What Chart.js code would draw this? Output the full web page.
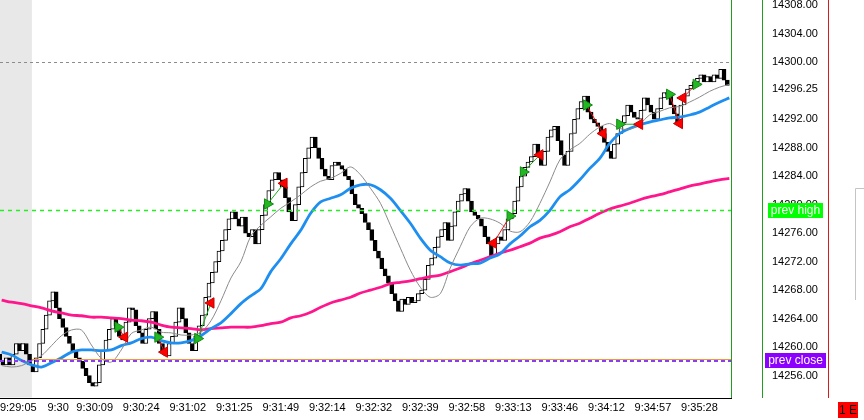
<!DOCTYPE html>
<html><head><meta charset="utf-8">
<script src="https://cdn.jsdelivr.net/npm/chart.js@4.4.1/dist/chart.umd.min.js"></script>
<style>html,body{margin:0;padding:0;background:#fff;overflow:hidden}canvas{display:block}</style>
</head><body>
<canvas id="c" width="864" height="420"></canvas>
<script>
// ---- data ----
const firstOpen = 14259.0;
const barCloses = [
  14258.0, 14257.5, 14258.5, 14257.5, 14259.0, 14260.5, 14259.5, 14260.5, 14259.0, 14257.5,
  14256.5, 14258.5, 14260.5, 14262.5, 14264.5, 14266.5, 14267.75, 14265.5, 14264.0, 14262.75,
  14261.5, 14260.5, 14259.5, 14258.5, 14258.0, 14257.0, 14256.0, 14255.0, 14254.5, 14255.0,
  14257.5, 14259.5, 14261.0, 14262.5, 14264.0, 14263.0, 14261.5, 14261.0, 14263.5, 14265.5,
  14265.25, 14263.0, 14262.0, 14260.5, 14262.5, 14264.0, 14265.0, 14262.5, 14260.5, 14259.5,
  14258.75, 14260.5, 14261.5, 14263.5, 14265.5, 14264.0, 14262.0, 14260.5, 14259.5, 14261.5,
  14263.0, 14264.5, 14267.0, 14269.0, 14270.5, 14272.0, 14273.5, 14275.0, 14276.5, 14278.0,
  14279.0, 14278.0, 14277.0, 14278.25, 14276.0, 14275.5, 14276.5, 14274.5, 14276.5, 14278.5,
  14280.0, 14282.0, 14283.5, 14284.5, 14283.5, 14282.5, 14281.0, 14279.0, 14277.75, 14280.0,
  14282.5, 14284.5, 14286.5, 14288.0, 14289.5, 14288.0, 14286.5, 14285.0, 14284.0, 14283.5,
  14285.5, 14286.0, 14285.5, 14285.0, 14284.0, 14283.5, 14281.5, 14280.0, 14279.5, 14278.75,
  14277.5, 14276.5, 14275.0, 14273.5, 14272.5, 14271.0, 14270.0, 14269.0, 14267.5, 14266.5,
  14265.0, 14266.75, 14266.0, 14267.0, 14266.25, 14266.5, 14267.5, 14268.0, 14269.5, 14271.5,
  14272.5, 14274.0, 14275.5, 14276.5, 14277.5, 14275.0, 14277.0, 14279.0, 14280.5, 14281.5,
  14282.25, 14280.5, 14279.0, 14278.5, 14278.0, 14277.0, 14275.5, 14274.5, 14272.75, 14274.5,
  14275.5, 14275.0, 14276.5, 14278.0, 14278.75, 14280.5, 14282.5, 14284.0, 14285.25, 14286.0,
  14286.75, 14288.5, 14287.0, 14285.5, 14287.5, 14289.5, 14290.5, 14291.0, 14289.0, 14287.0,
  14285.5, 14287.5, 14290.0, 14292.0, 14293.5, 14294.5, 14295.25, 14293.0, 14292.0, 14291.5,
  14291.0, 14290.0, 14288.75, 14287.5, 14286.5, 14288.5, 14290.0, 14291.5, 14292.5, 14294.0,
  14293.0, 14292.25, 14292.0, 14293.25, 14295.0, 14294.0, 14293.0, 14292.0, 14293.5, 14295.0,
  14295.75, 14295.5, 14294.0, 14292.75, 14291.5, 14294.0, 14295.25, 14296.25, 14296.75, 14297.25,
  14297.75, 14298.25, 14297.25, 14298.0, 14297.25, 14298.25, 14297.75, 14299.0, 14297.5, 14296.75
];
const timeLabels = ['9:29:05','9:30','9:30:09','9:30:24','9:31:02','9:31:25','9:31:49','9:32:14',
  '9:32:32','9:32:39','9:32:58','9:33:13','9:33:46','9:34:12','9:34:57','9:35:28'];
const timeLabelBars = [5,17,28,42,56,70,84,98,112,126,140,154,168,182,196,210];
const priceTicks = [14256,14260,14264,14268,14272,14276,14280,14284,14288,14292,14296.25,14300,14304,14308];

// moving averages, read every maStep bars
const maStep = 3;
const maFast = [14257.4,14257.2,14257.4,14258.1,14258.8,14260.2,14261.6,14262.4,14262.4,14260.3,
  14258.4,14257.9,14259.6,14261.9,14262.4,14262.8,14262.1,14262.0,14261.7,14261.7,
  14262.1,14263.7,14266.5,14269.7,14272.0,14275.6,14277.1,14278.3,14279.5,14280.4,
  14281.4,14282.5,14283.3,14283.7,14284.4,14285.3,14284.2,14282.3,14280.2,14277.1,
  14273.9,14270.8,14268.4,14267.0,14267.5,14271.1,14274.1,14276.9,14278.1,14278.0,
  14277.4,14276.3,14276.2,14277.6,14280.2,14283.2,14286.3,14287.7,14288.6,14289.9,
  14290.9,14291.4,14290.7,14290.6,14291.3,14292.6,14293.1,14293.6,14293.8,14294.4,
  14295.1,14295.9,14296.5,14296.9];
const maMid = [14259.3,14258.9,14258.1,14257.5,14257.2,14257.8,14258.5,14259.3,14259.6,14259.6,
  14259.5,14259.6,14260.2,14260.6,14261.2,14261.4,14260.9,14260.6,14260.6,14260.9,
  14261.6,14262.6,14263.4,14264.7,14266.1,14267.2,14268.2,14270.6,14272.4,14274.5,
  14276.4,14278.8,14280.4,14280.9,14281.4,14282.3,14282.8,14282.8,14282.1,14280.9,
  14279.2,14277.4,14275.3,14273.6,14272.7,14271.8,14271.5,14271.7,14271.8,14272.5,
  14273.1,14274.5,14275.6,14276.9,14277.8,14279.2,14281.1,14282.1,14283.5,14285.1,
  14286.5,14288.6,14290.0,14290.7,14291.2,14291.6,14291.9,14292.2,14292.3,14292.6,
  14293.0,14293.7,14294.4,14295.0];
const maSlow = [14266.6,14266.3,14266.1,14265.8,14265.5,14265.1,14264.8,14264.5,14264.4,14264.2,
  14264.2,14264.1,14264.0,14263.8,14263.7,14263.5,14263.1,14262.8,14262.7,14262.6,
  14262.4,14262.6,14262.7,14262.8,14262.8,14262.8,14263.0,14263.3,14263.5,14264.1,
  14264.4,14264.9,14265.6,14266.2,14266.6,14267.0,14267.6,14268.0,14268.4,14268.9,
  14269.1,14269.3,14269.6,14269.9,14270.1,14270.6,14271.1,14271.7,14272.2,14272.7,
  14273.2,14273.6,14274.1,14274.6,14275.3,14275.7,14276.2,14276.9,14277.4,14278.1,
  14278.8,14279.4,14279.8,14280.2,14280.7,14281.1,14281.4,14281.8,14282.2,14282.6,
  14282.9,14283.2,14283.5,14283.7];

// trade signals
const tradeDir        = [1, 1, 1, 1, -1, 1, 1, 1, 1, -1];
const tradeEntryBar   = [35, 47, 59, 80, 148, 157, 176, 186, 201, 205];
const tradeEntryPrice = [14262.8, 14261.4, 14261.2, 14280.1, 14274.6, 14284.6, 14294.0, 14291.3, 14295.5, 14295.0];
const tradeExitBar    = [37, 49, 63, 85, 153, 162, 181, 192, 204, 209];
const tradeExitPrice  = [14261.4, 14259.3, 14266.2, 14283.0, 14278.4, 14287.0, 14290.0, 14291.3, 14291.4, 14296.9];

// horizontal levels
const refLevel = 14300.0;
const prevHigh = 14279.25;
const prevClose = 14258.1;
const lastLevel = 14258.3;
const preSessionEnd = 9.1; // in bars

// ---- build ----
const N = barCloses.length;
const barOpens = barCloses.map((c, i) => i === 0 ? firstOpen : barCloses[i - 1]);
const labels = barCloses.map((_, i) => { const k = timeLabelBars.indexOf(i); return k >= 0 ? timeLabels[k] : ''; });
const candleData = barCloses.map((c, i) => [barOpens[i], c]);
const candleFill = barCloses.map((c, i) => c >= barOpens[i] ? '#ffffff' : '#000000');
const toPts = arr => arr.map((v, k) => ({x: k * maStep, y: v}));

const buyPts = [], sellPts = [];
const tradeSets = [];
tradeDir.forEach((d, k) => {
  const e = {x: tradeEntryBar[k], y: tradeEntryPrice[k]};
  const x = {x: tradeExitBar[k], y: tradeExitPrice[k]};
  if (d > 0) { buyPts.push(e); sellPts.push(x); } else { sellPts.push(e); buyPts.push(x); }
  const win = (tradeExitPrice[k] - tradeEntryPrice[k]) * d >= 0;
  tradeSets.push({type: 'line', xAxisID: 'x2', yAxisID: 'y', data: [e, x],
    borderColor: win ? '#19b019' : '#ee1111', borderWidth: 1, pointRadius: 0, order: 3});
});

Chart.defaults.font.family = "'Liberation Sans', Arial, sans-serif";
Chart.defaults.font.size = 11;
Chart.defaults.color = '#000';

const overlay = {
  id: 'overlay',
  beforeDatasetsDraw(chart) {
    const {ctx, chartArea: a, scales} = chart;
    ctx.save();
    ctx.fillStyle = '#e8e8e8';
    const xr = scales.x2.getPixelForValue(preSessionEnd);
    ctx.fillRect(a.left, a.top, xr - a.left, a.bottom - a.top - 0.5);
    ctx.restore();
  },
  afterDatasetsDraw(chart) {
    const {ctx, chartArea: a, scales} = chart;
    const y = scales.y;
    const hl = (p, color, w, dash, x0) => {
      const py = Math.round(y.getPixelForValue(p)) + (w % 2 ? 0.5 : 0);
      ctx.save();
      ctx.strokeStyle = color; ctx.lineWidth = w; ctx.setLineDash(dash);
      ctx.beginPath(); ctx.moveTo(x0 !== undefined ? x0 : a.left, py); ctx.lineTo(a.right, py); ctx.stroke();
      ctx.restore();
    };
    hl(refLevel, '#8c8c8c', 1, [3, 3]);
    hl(prevHigh, '#22ee22', 1.6, [4, 4]);
    hl(lastLevel, '#f0963c', 1, [], scales.x2.getPixelForValue(preSessionEnd));
    hl(prevClose, '#8a3cf0', 2, [4, 3]);
  },
  afterDraw(chart) {
    const {ctx, chartArea: a, scales} = chart;
    const y = scales.y;
    ctx.save();
    const vl = (x, color) => {
      ctx.strokeStyle = color; ctx.lineWidth = 1; ctx.setLineDash([]);
      ctx.beginPath(); ctx.moveTo(x + 0.5, 0); ctx.lineTo(x + 0.5, a.bottom); ctx.stroke();
    };
    vl(a.right, '#1f9f1f');
    vl(a.right + 31, '#1f9f1f');
    vl(a.right + 97, '#d41e1e');
    const box = (p, x0, x1, bg, txt) => {
      const cy = y.getPixelForValue(p);
      ctx.fillStyle = bg;
      ctx.fillRect(x0, Math.round(cy - 7.5), x1 - x0, 15);
      ctx.fillStyle = '#ffffff';
      ctx.font = "12px 'Liberation Sans', Arial, sans-serif";
      ctx.textAlign = 'center'; ctx.textBaseline = 'middle';
      ctx.fillText(txt, (x0 + x1) / 2, cy + 0.5);
    };
    const oy = Math.round(y.getPixelForValue(prevClose) - 8) + 0.5;
    ctx.strokeStyle = '#f0963c'; ctx.beginPath(); ctx.moveTo(777, oy); ctx.lineTo(803, oy); ctx.stroke();
    box(prevHigh, a.right + 37, a.right + 92, '#00ff00', 'prev high');
    box(prevClose, a.right + 34, a.right + 95, '#8c00ff', 'prev close');
    ctx.strokeStyle = '#c4c4c4'; ctx.lineWidth = 1;
    ctx.beginPath(); ctx.moveTo(864, 188.5); ctx.lineTo(855.5, 188.5); ctx.lineTo(855.5, 300); ctx.stroke();
    ctx.fillStyle = '#ff0000';
    ctx.fillRect(838, 402, 20, 16);
    ctx.fillStyle = '#000';
    ctx.font = "12px 'Liberation Sans', Arial, sans-serif";
    ctx.textAlign = 'center'; ctx.textBaseline = 'middle';
    ctx.fillText('1 E', 848, 410.5);
    ctx.restore();
  }
};

new Chart(document.getElementById('c'), {
  type: 'bar',
  data: {
    labels,
    datasets: [
      {type: 'bar', data: candleData, xAxisID: 'x', yAxisID: 'y',
        backgroundColor: candleFill, borderColor: '#000', borderWidth: 1, borderSkipped: false,
        barThickness: 4, order: 10},
      {type: 'line', xAxisID: 'x2', yAxisID: 'y', data: toPts(maSlow), borderColor: '#ff168c',
        borderWidth: 2.8, pointRadius: 0, tension: 0.3, order: 6},
      {type: 'line', xAxisID: 'x2', yAxisID: 'y', data: toPts(maMid), borderColor: '#1e8ff0',
        borderWidth: 2.8, pointRadius: 0, tension: 0.3, order: 5},
      {type: 'line', xAxisID: 'x2', yAxisID: 'y', data: toPts(maFast), borderColor: '#8a8a8a',
        borderWidth: 1, pointRadius: 0, tension: 0.3, order: 4},
      ...tradeSets,
      {type: 'line', xAxisID: 'x2', yAxisID: 'y', data: buyPts, showLine: false,
        pointStyle: 'triangle', pointRotation: 90, pointRadius: 6,
        pointBackgroundColor: '#22b822', pointBorderColor: '#148a14', pointBorderWidth: 1, order: 1},
      {type: 'line', xAxisID: 'x2', yAxisID: 'y', data: sellPts, showLine: false,
        pointStyle: 'triangle', pointRotation: 270, pointRadius: 6,
        pointBackgroundColor: '#ff0000', pointBorderColor: '#c00000', pointBorderWidth: 1, order: 1}
    ]
  },
  options: {
    responsive: false,
    devicePixelRatio: 1,
    animation: false,
    layout: {padding: 0, autoPadding: false},
    plugins: {legend: {display: false}, tooltip: {enabled: false}},
    scales: {
      x: {
        type: 'category', offset: true,
        grid: {display: false, drawTicks: false},
        border: {display: true, color: '#000', width: 1},
        ticks: {autoSkip: false, maxRotation: 0, minRotation: 0, padding: 3, color: '#000',
          font: {size: 11}},
        afterFit(s) { s.height = 22; s.paddingLeft = 0; s.paddingRight = 0; }
      },
      x2: {type: 'linear', display: false, offset: false, min: -0.5, max: N - 0.5,
        grid: {offset: false}},
      y: {
        type: 'linear', position: 'right', min: 14252.85, max: 14308.75,
        grid: {display: false, drawTicks: false},
        border: {display: false},
        ticks: {padding: 41, color: '#000', font: {size: 11},
          callback: v => Number(v).toFixed(2)},
        afterBuildTicks(s) { s.ticks = priceTicks.map(v => ({value: v})); },
        afterFit(s) { s.width = 133; s.paddingTop = 0; s.paddingBottom = 0; }
      }
    }
  },
  plugins: [overlay]
});
</script>
</body></html>
